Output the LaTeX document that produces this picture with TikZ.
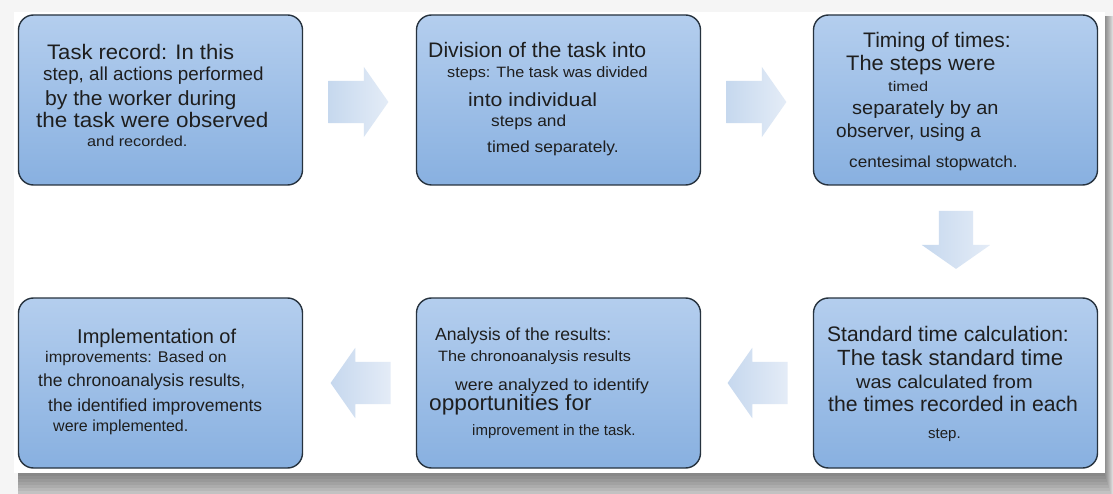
\documentclass[tikz,border=0pt]{standalone}
\usepackage{fontspec}
\setmainfont{Liberation Sans}
\usepackage{graphicx}
\usetikzlibrary{shapes.arrows,calc}

\definecolor{boxtop}{RGB}{180,206,238}
\definecolor{boxbottom}{RGB}{136,176,224}
\definecolor{boxline}{RGB}{38,50,62}
\definecolor{arrowdark}{RGB}{198,216,238}
\definecolor{arrowlight}{RGB}{228,236,247}
\definecolor{ink}{RGB}{30,30,30}

% size, horizontal stretch, text
\newcommand{\sized}[3]{\scalebox{#2}[1]{\fontsize{#1}{#1}\selectfont #3}}

\begin{document}
\begin{tikzpicture}[x=1pt,y=-1pt,
  stepbox/.style={draw=boxline,line width=1.4pt,rounded corners=15pt,
    top color=boxtop,bottom color=boxbottom,
    minimum width=284pt,minimum height=170pt,inner sep=0pt},
  blockarrow/.style={single arrow,draw=none,left color=arrowdark,right color=arrowlight,
    anchor=tail,inner xsep=0pt,inner ysep=21pt,minimum height=60pt,
    single arrow head extend=14pt,single arrow tip angle=110},
  txt/.style={anchor=base west,inner sep=0pt,text=ink}]
  \useasboundingbox (0,0) rectangle (1113,494);
  % page and its shadow
  \fill[gray!8] (0,0) rectangle (1113,494);
  \foreach \s in {1,...,10}
    \fill[black,opacity=0.055] (18,16) rectangle (1104+\s,473+3*\s);
  \fill[white] (14,12) rectangle (1105,473);

  % boxes
  \node[stepbox] (record) at (160.5,100) {};
  \node[stepbox] (division) at (558.5,100) {};
  \node[stepbox] (timing) at (955.5,100) {};
  \node[stepbox] (standard) at (955.5,383) {};
  \node[stepbox] (analysis) at (558.5,383) {};
  \node[stepbox] (improve) at (160.5,383) {};

  % arrows between boxes
  \node[blockarrow] (record-division) at ($(record.east)+(25,2)$) {};
  \node[blockarrow] (division-timing) at ($(division.east)+(25,2)$) {};
  \node[blockarrow,rotate=-90,inner ysep=17pt,single arrow head extend=17pt,minimum height=58pt]
    (timing-standard) at ($(timing.south)+(0.5,25)$) {};
  \node[blockarrow,rotate=180] (standard-analysis) at ($(standard.west)+(-25,0)$) {};
  \node[blockarrow,rotate=180] (analysis-improve) at ($(analysis.west)+(-25,0)$) {};

  % task record
  \node[txt] (record1) at (47,60) {\sized{21}{1.05}{Task record: In this}};
  \node[txt] (record2) at (43,80.5) {\sized{18.8}{1}{step, all actions performed}};
  \node[txt] (record3) at (45,106) {\sized{20.5}{1.03}{by the worker during}};
  \node[txt] (record4) at (36,128) {\sized{21}{1.07}{the task were observed}};
  \node[txt] (record5) at (87,147) {\sized{14.5}{1.12}{and recorded.}};

  % division into steps
  \node[txt] (division1) at (428,58) {\sized{21}{1.01}{Division of the task into}};
  \node[txt] (division2) at (447,78) {\sized{15}{1.08}{steps: The task was divided}};
  \node[txt] (division3) at (468,106.5) {\sized{19}{1.12}{into individual}};
  \node[txt] (division4) at (491,126.5) {\sized{16}{1.08}{steps and}};
  \node[txt] (division5) at (487,153) {\sized{16}{1.09}{timed separately.}};

  % timing
  \node[txt] (timing1) at (863,48) {\sized{21}{1}{Timing of times:}};
  \node[txt] (timing2) at (846,71) {\sized{21}{1.04}{The steps were}};
  \node[txt] (timing3) at (888,91.5) {\sized{14}{1.17}{timed}};
  \node[txt] (timing4) at (852,115) {\sized{19}{1.05}{separately by an}};
  \node[txt] (timing5) at (836,138) {\sized{19}{1}{observer, using a}};
  \node[txt] (timing6) at (849,168) {\sized{16}{1.07}{centesimal stopwatch.}};

  % standard time
  \node[txt] (standard1) at (827,341.5) {\sized{21}{1}{Standard time calculation:}};
  \node[txt] (standard2) at (837,365) {\sized{22}{1.01}{The task standard time}};
  \node[txt] (standard3) at (856,388) {\sized{18.5}{1.08}{was calculated from}};
  \node[txt] (standard4) at (828,411.5) {\sized{21.2}{1}{the times recorded in each}};
  \node[txt] (standard5) at (928,438) {\sized{15}{1}{step.}};

  % analysis
  \node[txt] (analysis1) at (435,340) {\sized{17.6}{1}{Analysis of the results:}};
  \node[txt] (analysis2) at (438,361.5) {\sized{15}{1.08}{The chronoanalysis results}};
  \node[txt] (analysis3) at (455,390) {\sized{16.3}{1.08}{were analyzed to identify}};
  \node[txt] (analysis4) at (429,410) {\sized{22}{1.03}{opportunities for}};
  \node[txt] (analysis5) at (472,435) {\sized{15}{1}{improvement in the task.}};

  % improvements
  \node[txt] (improve1) at (77,343) {\sized{20}{1}{Implementation of}};
  \node[txt] (improve2) at (45,362.5) {\sized{15.5}{1.05}{improvements: Based on}};
  \node[txt] (improve3) at (38,386) {\sized{17.5}{1}{the chronoanalysis results,}};
  \node[txt] (improve4) at (48,411.5) {\sized{17.5}{1}{the identified improvements}};
  \node[txt] (improve5) at (53,431.5) {\sized{16}{1}{were implemented.}};
\end{tikzpicture}
\end{document}
